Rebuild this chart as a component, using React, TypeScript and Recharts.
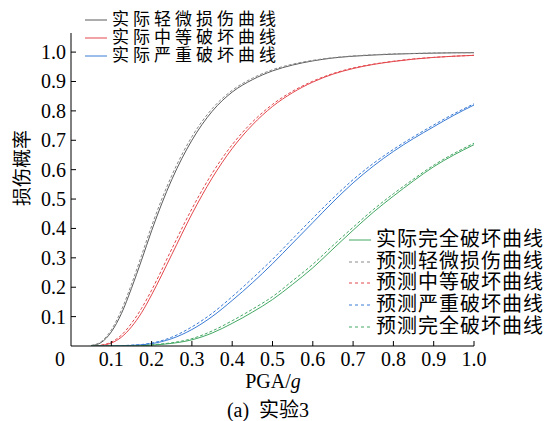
import React from "react";
import { LineChart, Line, XAxis, YAxis } from "recharts";

const pga = [0.05, 0.075, 0.1, 0.125, 0.15, 0.175, 0.2, 0.25, 0.3, 0.35, 0.4, 0.45, 0.5, 0.55, 0.6, 0.65, 0.7, 0.75, 0.8, 0.85, 0.9, 0.95, 1.0];

const slightActual = [0.001, 0.012, 0.048, 0.11, 0.196, 0.292, 0.392, 0.566, 0.7, 0.798, 0.864, 0.906, 0.936, 0.956, 0.97, 0.98, 0.986, 0.99, 0.993, 0.995, 0.9965, 0.9975, 0.998];
const moderateActual = [0, 0.002, 0.01, 0.03, 0.065, 0.113, 0.174, 0.311, 0.449, 0.571, 0.672, 0.752, 0.815, 0.862, 0.898, 0.925, 0.944, 0.958, 0.968, 0.976, 0.982, 0.986, 0.989];
const severeActual = [0, 0, 0, 0.001, 0.002, 0.004, 0.008, 0.025, 0.056, 0.1, 0.155, 0.215, 0.28, 0.35, 0.42, 0.49, 0.555, 0.612, 0.662, 0.706, 0.746, 0.785, 0.82];
const completeActual = [0, 0, 0, 0, 0, 0.001, 0.003, 0.009, 0.021, 0.044, 0.077, 0.115, 0.158, 0.21, 0.266, 0.33, 0.394, 0.455, 0.51, 0.562, 0.61, 0.65, 0.685];

const slightPred = [0.002, 0.015, 0.055, 0.122, 0.21, 0.308, 0.408, 0.58, 0.712, 0.807, 0.87, 0.911, 0.94, 0.959, 0.972, 0.981, 0.987, 0.991, 0.994, 0.9955, 0.997, 0.998, 0.998];
const moderatePred = [0, 0.003, 0.013, 0.037, 0.077, 0.128, 0.19, 0.33, 0.467, 0.587, 0.685, 0.762, 0.822, 0.867, 0.901, 0.927, 0.946, 0.959, 0.969, 0.977, 0.982, 0.986, 0.989];
const severePred = [0, 0, 0, 0.001, 0.003, 0.005, 0.01, 0.03, 0.065, 0.111, 0.168, 0.23, 0.295, 0.365, 0.435, 0.503, 0.566, 0.621, 0.669, 0.712, 0.752, 0.79, 0.824];
const completePred = [0, 0, 0, 0, 0, 0.001, 0.004, 0.011, 0.025, 0.051, 0.086, 0.125, 0.168, 0.222, 0.278, 0.342, 0.404, 0.464, 0.518, 0.568, 0.615, 0.655, 0.69];

const xTicks = [0, 0.1, 0.2, 0.3, 0.4, 0.5, 0.6, 0.7, 0.8, 0.9, 1.0];
const yTicks = [0.1, 0.2, 0.3, 0.4, 0.5, 0.6, 0.7, 0.8, 0.9, 1.0];

const GRAY = "#5a5a5a";
const RED = "#e4474c";
const BLUE = "#3a7bd5";
const GREEN = "#44a864";

const FONT = "'Liberation Serif', 'Noto Sans CJK SC', serif";

const data = pga.map((x, i) => ({
  x,
  slightActual: slightActual[i],
  moderateActual: moderateActual[i],
  severeActual: severeActual[i],
  completeActual: completeActual[i],
  slightPred: slightPred[i],
  moderatePred: moderatePred[i],
  severePred: severePred[i],
  completePred: completePred[i],
}));

const series = [
  { key: "slightActual", color: GRAY, dash: undefined },
  { key: "moderateActual", color: RED, dash: undefined },
  { key: "severeActual", color: BLUE, dash: undefined },
  { key: "completeActual", color: GREEN, dash: undefined },
  { key: "slightPred", color: "#8a8a8a", dash: "3 2" },
  { key: "moderatePred", color: RED, dash: "3 2" },
  { key: "severePred", color: BLUE, dash: "3 2" },
  { key: "completePred", color: GREEN, dash: "3 2" },
];

const topLegend = [
  { name: "实际轻微损伤曲线", color: GRAY, dash: false },
  { name: "实际中等破坏曲线", color: RED, dash: false },
  { name: "实际严重破坏曲线", color: BLUE, dash: false },
];
const bottomLegend = [
  { name: "实际完全破坏曲线", color: GREEN, dash: false },
  { name: "预测轻微损伤曲线", color: "#8a8a8a", dash: true },
  { name: "预测中等破坏曲线", color: RED, dash: true },
  { name: "预测严重破坏曲线", color: BLUE, dash: true },
  { name: "预测完全破坏曲线", color: GREEN, dash: true },
];

const YTick = (props: any) => {
  const { x, y, payload } = props;
  const ax = x + 4;
  return (
    <g>
      <line x1={ax} x2={ax + 5} y1={y} y2={y} stroke="#000" strokeWidth={1} />
      <text x={x - 1} y={y} dy={7} textAnchor="end" fontSize={20} fontFamily={FONT} fill="#000">
        {payload.value.toFixed(1)}
      </text>
    </g>
  );
};

const XTick = (props: any) => {
  const { x, y, payload } = props;
  const v = payload.value;
  return (
    <g>
      {v > 0 && <line x1={x} x2={x} y1={y} y2={y - 5} stroke="#000" strokeWidth={1} />}
      <text x={v === 0 ? x - 11 : x} y={y} dy={20} textAnchor="middle" fontSize={20} fontFamily={FONT} fill="#000">
        {v === 0 ? "0" : v.toFixed(1)}
      </text>
    </g>
  );
};

function Legend({ items, left, top, rowH, size, spacing }: { items: typeof topLegend; left: number; top: number; rowH: number; size: number; spacing: number }) {
  return (
    <div style={{ position: "absolute", left, top, fontFamily: FONT, fontSize: size, lineHeight: `${rowH}px` }}>
      {items.map((it) => (
        <div key={it.name} style={{ display: "flex", alignItems: "center", height: rowH, whiteSpace: "nowrap" }}>
          <svg width={24} height={4} style={{ marginRight: 3 }}>
            <line x1={0} x2={22} y1={2} y2={2} stroke={it.color} strokeWidth={1} strokeDasharray={it.dash ? "3 3" : undefined} />
          </svg>
          <span style={{ letterSpacing: spacing }}>{it.name}</span>
        </div>
      ))}
    </div>
  );
}

export default function App() {
  return (
    <div style={{ position: "absolute", left: 0, top: 0, width: 554, height: 421, background: "#fff" }}>
      <LineChart width={554} height={421} data={data} margin={{ top: 33, right: 80, left: 11, bottom: 45 }}>
        <XAxis
          dataKey="x"
          type="number"
          domain={[0, 1]}
          ticks={xTicks}
          tickSize={0}
          tickMargin={0}
          height={30}
          tick={<XTick />}
          axisLine={{ stroke: "#000" }}
          interval={0}
        />
        <YAxis
          type="number"
          domain={[0, 1.065]}
          ticks={yTicks}
          tickSize={0}
          tickMargin={4}
          width={60}
          tick={<YTick />}
          axisLine={{ stroke: "#000" }}
          interval={0}
          allowDataOverflow
        />
        {series.map((s) => (
          <Line
            key={s.key}
            dataKey={s.key}
            type="monotone"
            stroke={s.color}
            strokeWidth={1}
            strokeDasharray={s.dash}
            dot={false}
            activeDot={false}
            isAnimationActive={false}
          />
        ))}
      </LineChart>
      <Legend items={topLegend} left={85} top={11} rowH={18} size={17} spacing={4} />
      <Legend items={bottomLegend} left={349} top={229} rowH={21.7} size={20} spacing={1} />
      <div
        style={{
          position: "absolute",
          left: 10,
          top: 168,
          transform: "translate(-50%, -50%) rotate(-90deg)",
          transformOrigin: "center",
          fontFamily: FONT,
          fontSize: 19,
          whiteSpace: "nowrap",
          marginLeft: 10,
        }}
      >
        损伤概率
      </div>
      <div style={{ position: "absolute", left: 0, width: 546, top: 370, textAlign: "center", fontFamily: FONT, fontSize: 20 }}>
        PGA/<i>g</i>
      </div>
      <div style={{ position: "absolute", left: 0, width: 536, top: 394, textAlign: "center", fontFamily: FONT, fontSize: 20 }}>
        (a)&nbsp;&nbsp;实验3
      </div>
    </div>
  );
}
